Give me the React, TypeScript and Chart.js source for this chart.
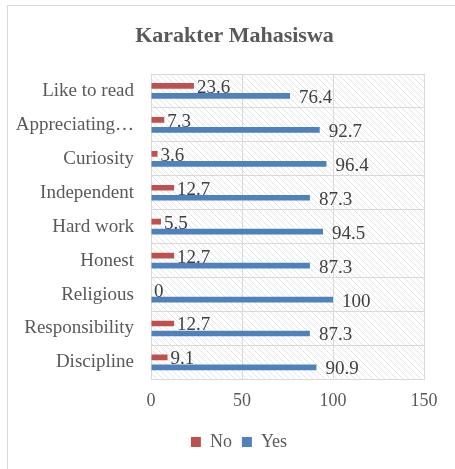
import React, { useEffect, useRef } from "react";
import { Chart, registerables } from "chart.js";

Chart.register(...registerables);

const chartTitle = "Karakter Mahasiswa";
const categories = [
  "Like to read",
  "Appreciating…",
  "Curiosity",
  "Independent",
  "Hard work",
  "Honest",
  "Religious",
  "Responsibility",
  "Discipline",
];
const seriesNames = ["No", "Yes"];
const noValues = [23.6, 7.3, 3.6, 12.7, 5.5, 12.7, 0, 12.7, 9.1];
const yesValues = [76.4, 92.7, 96.4, 87.3, 94.5, 87.3, 100, 87.3, 90.9];
const xTickValues = [0, 50, 100, 150];

const seriesColors = ["#C0504D", "#4F81BD"];
const labelOffsets = [3, 9];
const FONT = "'Liberation Serif', 'Times New Roman', serif";

const hatchPlugin = {
  id: "hatchBg",
  beforeDraw(chart: any) {
    const { ctx, chartArea: a } = chart;
    if (!a) return;
    const s = 6;
    const tile = document.createElement("canvas");
    tile.width = s;
    tile.height = s;
    const t = tile.getContext("2d")!;
    t.fillStyle = "#ffffff";
    t.fillRect(0, 0, s, s);
    t.strokeStyle = "#e4e4e4";
    t.lineWidth = 1;
    t.beginPath();
    t.moveTo(-1, -1);
    t.lineTo(s + 1, s + 1);
    t.moveTo(-1, s - 1);
    t.lineTo(1, s + 1);
    t.moveTo(s - 1, -1);
    t.lineTo(s + 1, 1);
    t.stroke();
    const pat = ctx.createPattern(tile, "repeat");
    ctx.save();
    ctx.fillStyle = pat;
    ctx.fillRect(a.left, a.top, a.right - a.left, a.bottom - a.top);
    ctx.restore();
  },
};

// centre the title and legend like the original (they are centred on the
// whole framed chart, not only on the plot area)
const centreBlocksPlugin = {
  id: "centreBlocks",
  afterLayout(chart: any) {
    if (chart.titleBlock) {
      chart.titleBlock.left = 14;
      chart.titleBlock.right = 455;
    }
    if (chart.legend) {
      chart.legend.left = 54;
      chart.legend.right = 424;
    }
  },
};

const valueLabelPlugin = {
  id: "valueLabels",
  afterDatasetsDraw(chart: any) {
    const ctx = chart.ctx;
    ctx.save();
    ctx.font = `19px ${FONT}`;
    ctx.fillStyle = "#404040";
    ctx.textAlign = "left";
    ctx.textBaseline = "middle";
    chart.data.datasets.forEach((ds: any, i: number) => {
      const meta = chart.getDatasetMeta(i);
      meta.data.forEach((el: any, j: number) => {
        ctx.fillText(String(ds.data[j]), el.x + labelOffsets[i], el.y + 2);
      });
    });
    ctx.restore();
  },
};

export default function App() {
  const ref = useRef<HTMLCanvasElement | null>(null);

  useEffect(() => {
    if (!ref.current) return;
    Chart.defaults.font.family = FONT;
    const chart = new Chart(ref.current, {
      type: "bar",
      data: {
        labels: categories,
        datasets: [
          {
            label: seriesNames[0],
            data: noValues,
            backgroundColor: seriesColors[0],
            barPercentage: 0.57,
            categoryPercentage: 0.59,
          },
          {
            label: seriesNames[1],
            data: yesValues,
            backgroundColor: seriesColors[1],
            barPercentage: 0.57,
            categoryPercentage: 0.59,
          },
        ],
      },
      options: {
        indexAxis: "y",
        animation: false,
        responsive: false,
        layout: { padding: { left: 0, right: 31, top: 0, bottom: 8 } },
        scales: {
          x: {
            min: xTickValues[0],
            max: xTickValues[xTickValues.length - 1],
            ticks: {
              stepSize: xTickValues[1] - xTickValues[0],
              color: "#595959",
              font: { size: 18, family: FONT },
              padding: 11,
            },
            grid: { color: "#d9d9d9", drawTicks: false },
            border: { display: true, color: "#d9d9d9" },
            afterFit(scale: any) {
              scale.height = 43.6;
            },
          },
          y: {
            ticks: {
              color: "#595959",
              font: { size: 19, family: FONT },
              padding: 17,
              autoSkip: false,
            },
            grid: { color: "#d9d9d9", drawTicks: false, offset: true },
            border: { display: true, color: "#d9d9d9" },
            afterFit(scale: any) {
              scale.width = 151;
            },
          },
        },
        plugins: {
          title: {
            display: true,
            text: chartTitle,
            color: "#595959",
            font: { size: 22, weight: "bold", family: FONT },
            padding: { top: 23.4, bottom: 24.2 },
          },
          legend: {
            position: "bottom",
            labels: {
              boxWidth: 10,
              boxHeight: 10,
              color: "#595959",
              font: { size: 18, family: FONT },
              padding: 10,
            },
          },
          tooltip: { enabled: false },
        },
      },
      plugins: [hatchPlugin, centreBlocksPlugin, valueLabelPlugin],
    });
    return () => chart.destroy();
  }, []);

  return (
    <div style={{ position: "fixed", inset: 0, overflow: "hidden", background: "#fff" }}>
      <div
        style={{
          position: "absolute",
          left: 7,
          top: 5,
          width: 480,
          height: 490,
          border: "1px solid #d9d9d9",
        }}
      />
      <canvas
        ref={ref}
        width={455}
        height={469}
        style={{ position: "absolute", left: 0, top: 0, width: 455, height: 469 }}
      />
    </div>
  );
}
